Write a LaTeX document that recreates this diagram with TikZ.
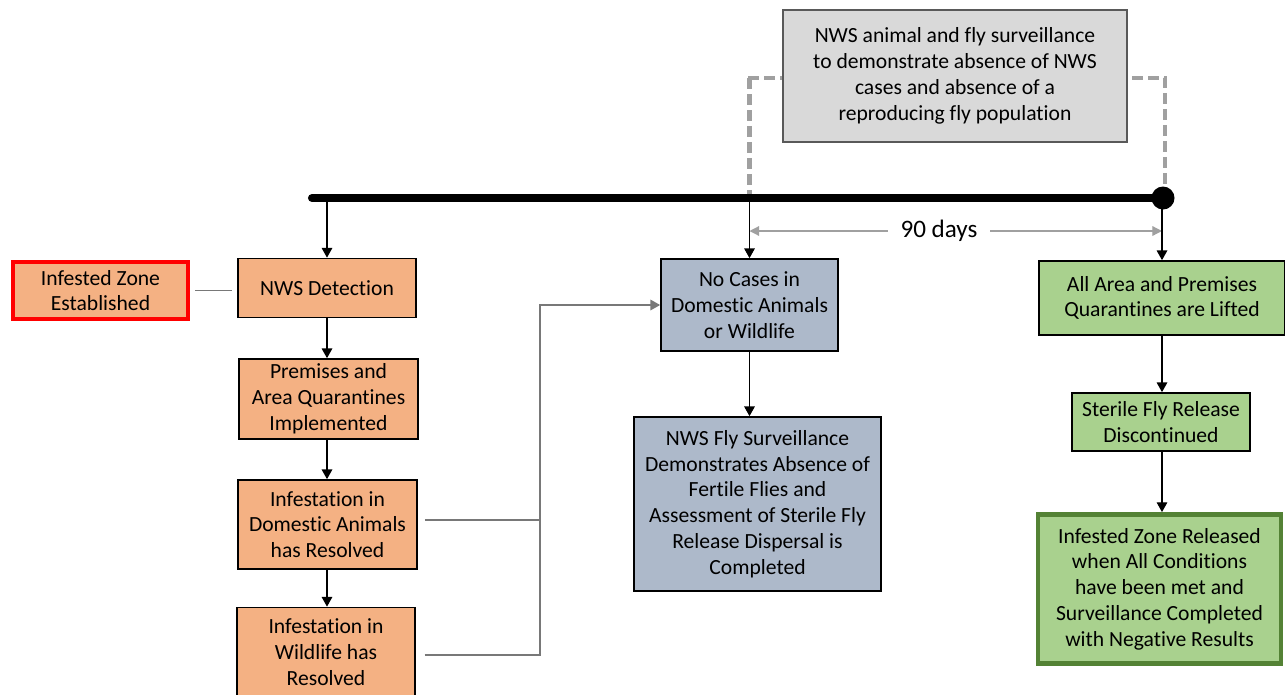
\documentclass[tikz,border=0pt]{standalone}
\usepackage{fontspec}
\setmainfont{Carlito}[Ligatures={NoCommon,NoRare,NoContextual}]
\usetikzlibrary{arrows.meta}
\definecolor{NWSorange}{RGB}{244,177,131}
\definecolor{NWSblue}{RGB}{173,185,202}
\definecolor{NWSgreen}{RGB}{169,209,142}
\definecolor{NWSdgreen}{RGB}{84,130,53}
\definecolor{NWSgrey}{RGB}{217,217,217}
\definecolor{NWSdgrey}{RGB}{89,89,89}
\definecolor{NWSdash}{RGB}{160,160,160}
\definecolor{NWSline}{RGB}{120,120,120}
\definecolor{NWSred}{RGB}{255,0,0}
\tikzstyle{NWSbox}=[draw=black, line width=1pt, align=center, inner sep=2pt, font=\fontsize{12.3}{14.7}\selectfont]
\tikzstyle{NWSorangebox}=[NWSbox, fill=NWSorange]
\tikzstyle{NWSredbox}=[NWSbox, fill=NWSorange, draw=NWSred, line width=2.4pt]
\tikzstyle{NWSbluebox}=[NWSbox, fill=NWSblue]
\tikzstyle{NWSgreenbox}=[NWSbox, fill=NWSgreen]
\tikzstyle{NWSdgreenbox}=[NWSbox, fill=NWSgreen, draw=NWSdgreen, line width=2.8pt]
\tikzstyle{NWSgreybox}=[NWSbox, fill=NWSgrey, draw=NWSdgrey]
\tikzstyle{NWSarrow}=[-{Triangle[length=5.5pt,width=6pt]}, line width=0.6pt]
\tikzstyle{NWSconn}=[draw=NWSline, line width=0.7pt]
\tikzstyle{NWSdays}=[-{Triangle[length=5.5pt,width=5.5pt]}, draw=NWSdash, line width=0.7pt]
\tikzstyle{NWSdashed}=[draw=NWSdash, line width=2.3pt, dash pattern=on 0.22cm off 0.1cm]

\begin{document}
\begin{tikzpicture}[x=0.02cm, y=-0.02cm]
    \clip (0,0) rectangle (1285,694);
    \coordinate (tstart) at (312,198);
    \coordinate (tend) at (1163,198);
    \coordinate (jn) at (540,520);
    \node [NWSredbox, minimum width=3.5cm, minimum height=1.14cm] (izone) at (100.5,290.5) {Infested Zone\\Established};
    \node [NWSorangebox, minimum width=3.56cm, minimum height=1.18cm] (detect) at (327,288) {NWS Detection};
    \node [NWSorangebox, minimum width=3.58cm, minimum height=1.6cm] (quar) at (328.5,399) {Premises and\\Area Quarantines\\Implemented};
    \node [NWSorangebox, minimum width=3.58cm, minimum height=1.78cm] (domest) at (327.5,524.5) {Infestation in\\Domestic Animals\\has Resolved};
    \node [NWSorangebox, minimum width=3.56cm, minimum height=1.78cm] (wild) at (326,652) {Infestation in\\Wildlife has\\Resolved};
    \node [NWSbluebox, minimum width=3.54cm, minimum height=1.84cm] (nocase) at (749.5,305) {No Cases in\\Domestic Animals\\or Wildlife};
    \node [NWSbluebox, minimum width=4.94cm, minimum height=3.48cm] (flysurv) at (757.5,504) {NWS Fly Surveillance\\Demonstrates Absence of\\Fertile Flies and\\Assessment of Sterile Fly\\Release Dispersal is\\Completed};
    \node [NWSgreenbox, minimum width=4.92cm, minimum height=1.48cm] (lifted) at (1162,298) {All Area and Premises\\Quarantines are Lifted};
    \node [NWSgreenbox, minimum width=3.56cm, minimum height=1.16cm] (sterile) at (1161,422) {Sterile Fly Release\\Discontinued};
    \node [NWSdgreenbox, minimum width=4.86cm, minimum height=2.98cm] (released) at (1159.5,589) {Infested Zone Released\\when All Conditions\\have been met and\\Surveillance Completed\\with Negative Results};
    \draw [NWSdashed] (nocase.north |- 0,78) -- (nocase.north |- tstart);
    \draw [NWSdashed] (748,78) -- (1165,78) -- (1165,190);
    \node [NWSgreybox, minimum width=6.88cm, minimum height=2.64cm] (survbox) at (955,76) {NWS animal and fly surveillance\\to demonstrate absence of NWS\\cases and absence of a\\reproducing fly population};
    \draw [line width=4.6pt, line cap=round] (tstart) -- (tend);
    \fill (tend) circle (0.23cm);
    \node [font=\fontsize{14.3}{16}\selectfont, inner xsep=7pt] (days) at (939,231) {90 days};
    \draw [NWSdays] (days.west) -- (nocase.north |- days);
    \draw [NWSdays] (days.east) -- (lifted.north |- days);
    \draw [NWSarrow] (detect.north |- tstart) -- (detect.north);
    \draw [NWSarrow] (nocase.north |- tstart) -- (nocase.north);
    \draw [NWSarrow] (lifted.north |- tstart) -- (lifted.north);
    \draw [NWSconn, shorten <=3pt, shorten >=3pt] (izone.east) -- (detect.west |- izone.east);
    \draw [NWSarrow] (detect.south) -- (detect.south |- quar.north);
    \draw [NWSarrow] (detect.south |- quar.south) -- (detect.south |- domest.north);
    \draw [NWSarrow] (detect.south |- domest.south) -- (detect.south |- wild.north);
    \draw [NWSconn, shorten <=4pt] (domest.east |- jn) -- (jn);
    \draw [NWSconn, shorten <=5pt] (wild.east |- 0,655) -| (jn);
    \draw [NWSconn, -{Triangle[length=5.5pt,width=6pt]}] (jn) |- (nocase.west);
    \draw [NWSarrow] (nocase.south) -- (nocase.south |- flysurv.north);
    \draw [NWSarrow] (lifted.south) -- (lifted.south |- sterile.north);
    \draw [NWSarrow] (lifted.south |- sterile.south) -- (lifted.south |- released.north);
\end{tikzpicture}
\end{document}
